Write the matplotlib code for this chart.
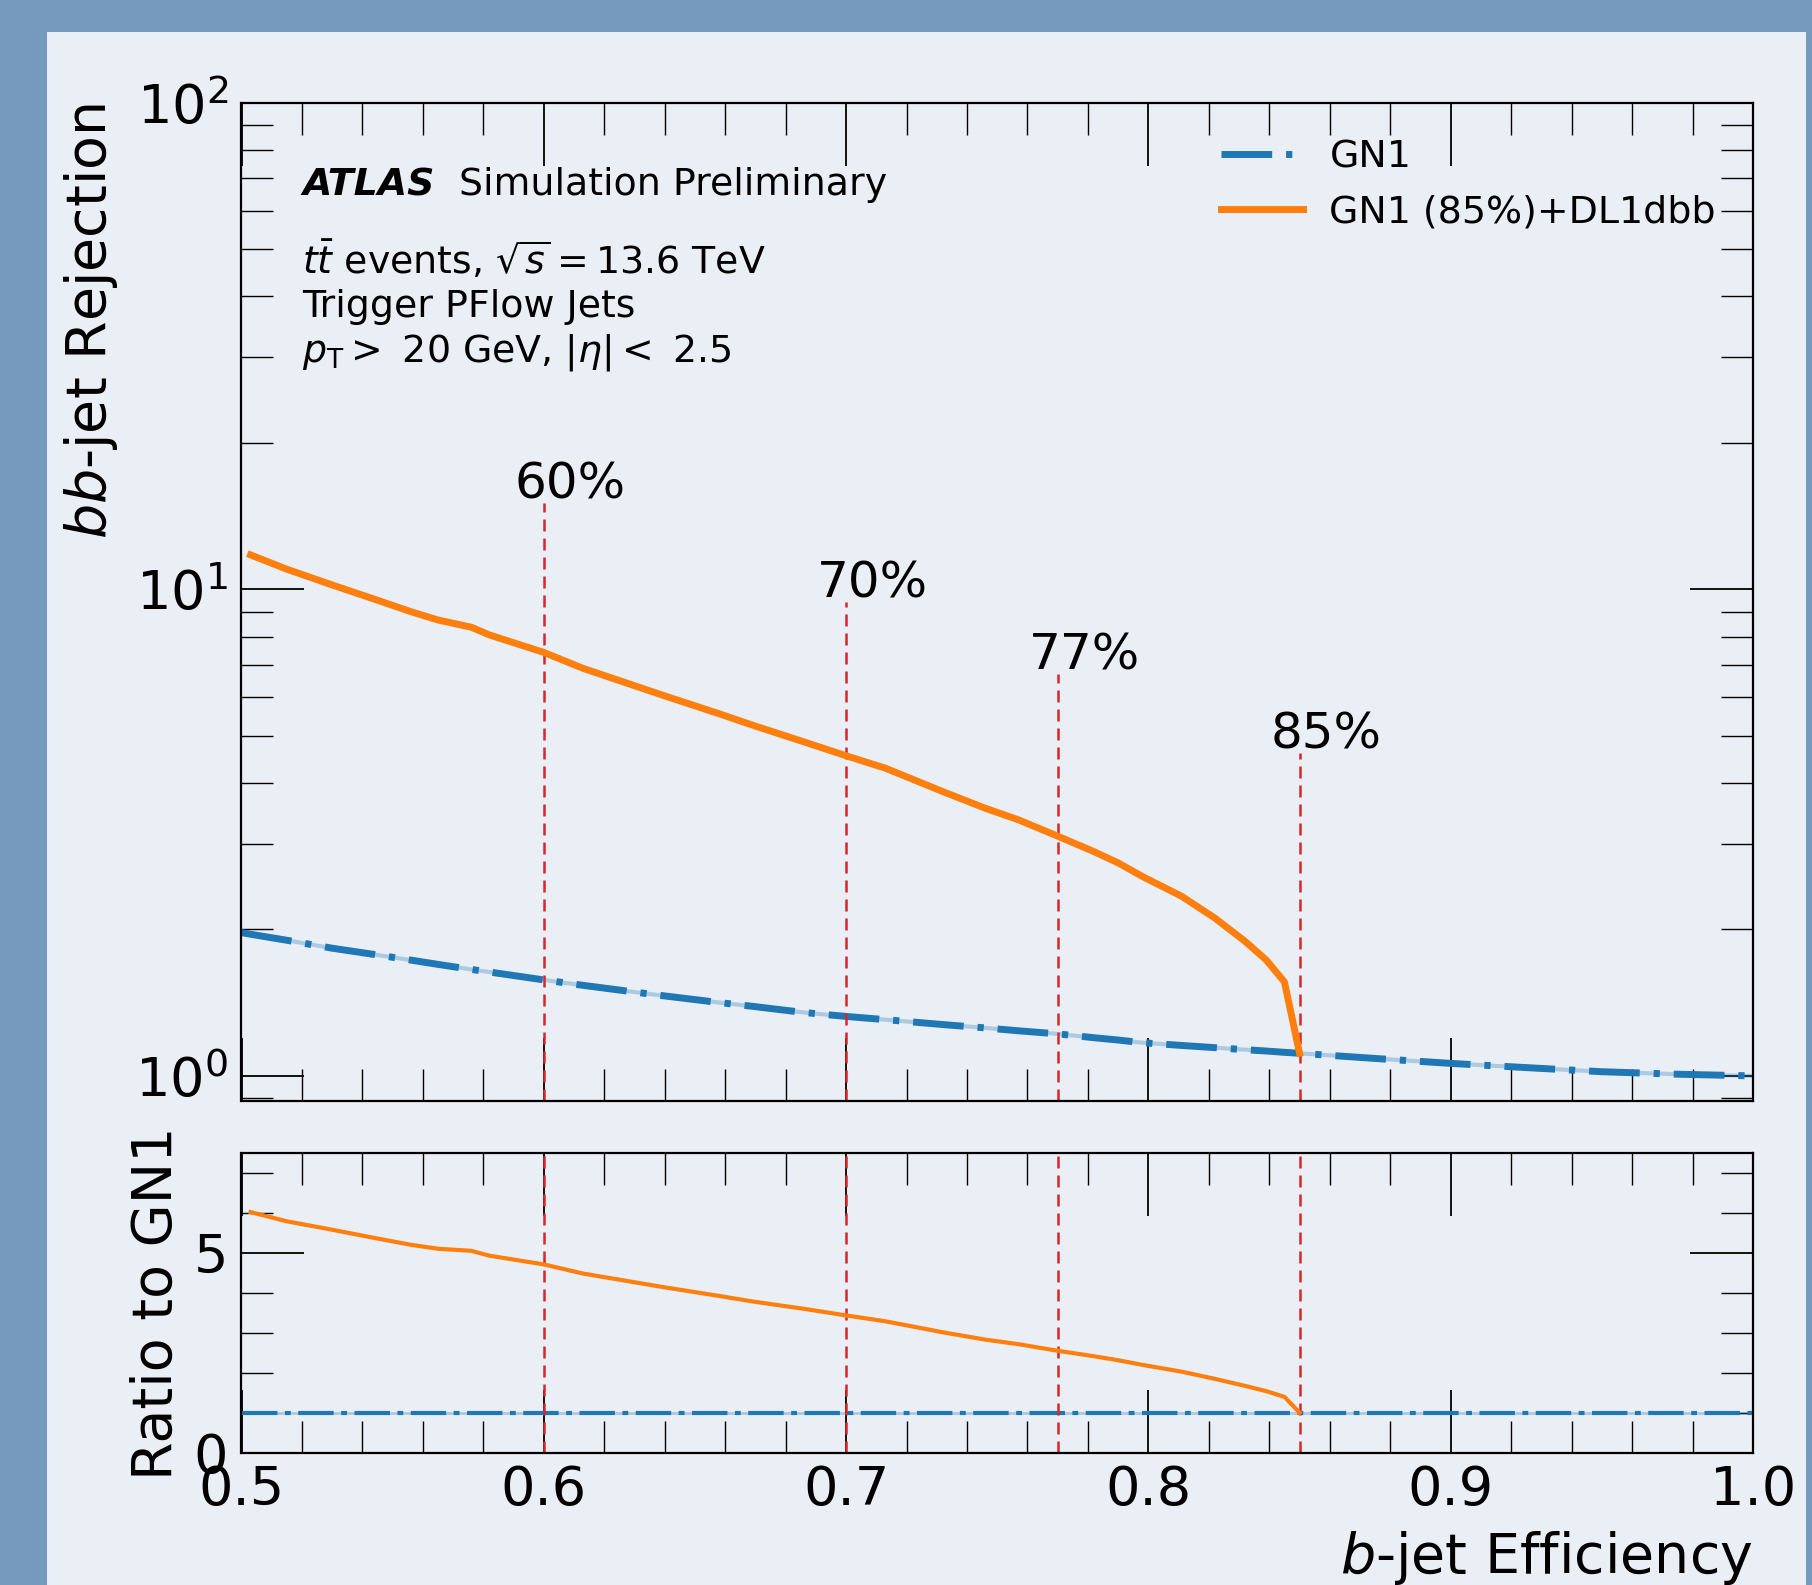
import matplotlib
matplotlib.use("Agg")
import matplotlib.pyplot as plt
from matplotlib.ticker import MultipleLocator, LogLocator, NullFormatter
from matplotlib.patches import Rectangle

# ---------------- data ----------------
eff_comb = [0.503, 0.515, 0.530, 0.543, 0.556, 0.565, 0.576, 0.582, 0.600, 0.613,
            0.640, 0.658, 0.669, 0.686, 0.700, 0.713, 0.732, 0.746, 0.757, 0.770,
            0.782, 0.790, 0.798, 0.811, 0.822, 0.832, 0.839, 0.845, 0.850]
rej_comb = [11.77, 11.0, 10.21, 9.59, 9.0, 8.65, 8.36, 8.06, 7.42, 6.88,
            6.04, 5.55, 5.26, 4.86, 4.55, 4.29, 3.84, 3.55, 3.36, 3.11,
            2.89, 2.74, 2.57, 2.34, 2.11, 1.89, 1.73, 1.56, 1.113]

eff_gn1 = [0.500] + eff_comb + [0.875, 0.900, 0.925, 0.950, 0.975, 1.000]
rej_gn1 = [1.97,
           1.955, 1.90, 1.83, 1.78, 1.73, 1.695, 1.655, 1.635, 1.575, 1.535,
           1.46, 1.415, 1.39, 1.35, 1.325, 1.305, 1.275, 1.255, 1.238, 1.22,
           1.198, 1.185, 1.17, 1.155, 1.143, 1.132, 1.125, 1.118, 1.113,
           1.086, 1.061, 1.04, 1.02, 1.008, 1.0]

wp_eff = [0.60, 0.70, 0.77, 0.85]
wp_labels = ["60%", "70%", "77%", "85%"]
wp_line_top = [15.07, 9.42, 6.71, 4.60]

labels = ["GN1", "GN1 (85%)+DL1dbb"]

# ratios to GN1 (GN1 evaluated at the same efficiencies)
gn1_at_comb = rej_gn1[1:1 + len(eff_comb)]
ratio_comb = [c / g for c, g in zip(rej_comb, gn1_at_comb)]
ratio_gn1 = [g / g for g in rej_gn1]

# ---------------- style ----------------
BORDER = "#769abe"
BG = "#eaeff6"
BLUE = "#1f77b4"
ORANGE = "#ff7f0e"
RED = "#d62728"
TICK_FS = 39
LABEL_FS = 40
TEXT_FS = 27.3
WP_FS = 36

plt.rcParams["font.family"] = ["DejaVu Sans"]
plt.rcParams["mathtext.fontset"] = "dejavusans"

W, H = 1812, 1585
fig = plt.figure(figsize=(W / 100, H / 100), dpi=100, facecolor=BORDER)
fig.patches.append(Rectangle((47 / W, 0), (1806 - 47) / W, (H - 32) / H,
                             transform=fig.transFigure, facecolor=BG,
                             edgecolor="none", zorder=-10))

left, right = 241.5 / W, 1753 / W
ax = fig.add_axes([left, (H - 1101) / H, right - left, (1101 - 102.8) / H])
axr = fig.add_axes([left, (H - 1452.6) / H, right - left, (1452.6 - 1153) / H],
                   sharex=ax)
for a in (ax, axr):
    a.set_facecolor("none")
    a.set_zorder(1)
    for s in a.spines.values():
        s.set_linewidth(1.6)
    a.tick_params(which="both", direction="in", top=True, right=True,
                  labelsize=TICK_FS)
    a.tick_params(which="major", length=45.4, width=1.3)
    a.tick_params(which="minor", length=22.7, width=1.0)
    a.tick_params(axis="x", pad=8.5)
    a.tick_params(axis="y", pad=9.5)

# ---------------- main panel ----------------
ymin_main = 0.888
ax.set_yscale("log")
ax.set_xlim(0.5, 1.0)
ax.set_ylim(ymin_main, 100)
ax.xaxis.set_major_locator(MultipleLocator(0.1))
ax.xaxis.set_minor_locator(MultipleLocator(0.02))
ax.yaxis.set_minor_locator(LogLocator(base=10, subs=range(2, 10)))
ax.yaxis.set_minor_formatter(NullFormatter())
ax.tick_params(labelbottom=False)

lw_main = 5.0
ax.plot(eff_gn1, rej_gn1, color=BLUE, alpha=0.3, lw=lw_main * 0.6, zorder=2)
l_gn1, = ax.plot(eff_gn1, rej_gn1, color=BLUE, lw=lw_main,
                 dashes=(7.3, 2.0, 0.9, 2.0), zorder=2.2, label=labels[0])
l_comb, = ax.plot(eff_comb, rej_comb, color=ORANGE, lw=lw_main, zorder=3,
                  label=labels[1])

ax.vlines(wp_eff, ymin_main, wp_line_top, colors=RED, lw=1.8,
          linestyles=(0, (4.8, 2.8)), zorder=2.5)
for x, top, lab in zip(wp_eff, wp_line_top, wp_labels):
    ax.annotate(lab, xy=(x, top), xytext=(19, 3.2), textcoords="offset points",
                ha="center", va="baseline", fontsize=WP_FS)

ax.set_ylabel(r"$bb$-jet Rejection", fontsize=LABEL_FS, loc="top", va="baseline")
ax.yaxis.set_label_coords(-0.0895, 1.0)

ax.text(0.0402, 0.9076, "ATLAS", transform=ax.transAxes, fontsize=TEXT_FS,
        fontweight="bold", fontstyle="italic", va="baseline")
ax.text(0.1439, 0.9076, "Simulation Preliminary", transform=ax.transAxes,
        fontsize=TEXT_FS, va="baseline")
ax.text(0.0402, 0.8285, r"$t\bar{t}$ events, $\sqrt{s} = 13.6$ TeV",
        transform=ax.transAxes, fontsize=TEXT_FS, va="baseline")
ax.text(0.0402, 0.7857, "Trigger PFlow Jets", transform=ax.transAxes,
        fontsize=TEXT_FS, va="baseline")
ax.text(0.0402, 0.7406, r"$p_{\mathrm{T}} >$ 20 GeV, $|\eta| <$ 2.5",
        transform=ax.transAxes, fontsize=TEXT_FS, va="baseline")

ax.legend(handles=[l_gn1, l_comb], labels=labels, loc="upper right",
          bbox_to_anchor=(0.9755, 0.963), frameon=False, fontsize=TEXT_FS,
          handlelength=2.16, handletextpad=0.71, borderpad=0,
          borderaxespad=0, labelspacing=0.5)

# ---------------- ratio panel ----------------
axr.set_ylim(0, 7.5)
axr.yaxis.set_major_locator(MultipleLocator(5))
axr.yaxis.set_minor_locator(MultipleLocator(1))
lw_r = 3.0
axr.plot(eff_gn1, ratio_gn1, color=BLUE, alpha=0.3, lw=lw_r * 0.7, zorder=2)
axr.plot(eff_gn1, ratio_gn1, color=BLUE, lw=lw_r,
         dashes=(8.5, 1.8, 1.4, 1.8), zorder=2.2)
axr.plot(eff_comb, ratio_comb, color=ORANGE, lw=lw_r, zorder=3)
for x in wp_eff:
    axr.axvline(x, color=RED, lw=1.8, linestyle=(0, (4.8, 2.8)), zorder=2.5)

axr.set_ylabel("Ratio to GN1", fontsize=LABEL_FS, va="baseline")
axr.yaxis.set_label_coords(-0.0460, 0.5)
axr.set_xlabel(r"$b$-jet Efficiency", fontsize=LABEL_FS, loc="right", va="baseline")
axr.xaxis.set_label_coords(1.0, -0.403)

fig.savefig("out.png", dpi=100, facecolor=BORDER)
